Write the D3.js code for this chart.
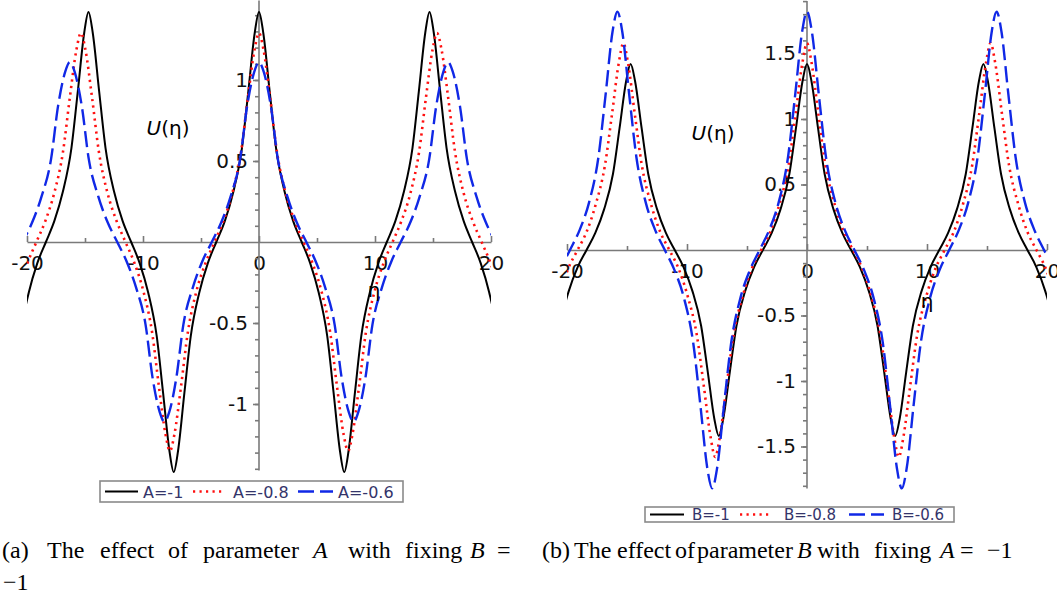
<!DOCTYPE html>
<html>
<head>
<meta charset="utf-8">
<script src="https://cdn.jsdelivr.net/npm/d3@7"></script>
<style>
  body { margin: 0; background: #fff; }
  svg { display: block; }
  .tick text { font-family: "DejaVu Sans", sans-serif; font-size: 20px; fill: #111; }
  .cap { font-family: "Liberation Serif", "Times New Roman", serif; font-size: 24px; fill: #000; }
  .leg { font-family: "DejaVu Sans", sans-serif; fill: #34346a; }
</style>
</head>
<body>
<div id="chart"></div>
<script>
// eta ticks / labels
const etaMajor = [-20, -10, 0, 10, 20];
const etaMinor = [-15, -5, 5, 15];
const yMajorA = [-1, -0.5, 0.5, 1];
const yMajorB = [-1.5, -1, -0.5, 0.5, 1.5, 1];
const legendA = ["A=-1", "A=-0.8", "A=-0.6"];
const legendB = ["B=-1", "B=-0.8", "B=-0.6"];

// A=-1, B=-1 (same curve in both panels)
const curveA1B1 = [[-21.13,-0.93],[-20.58,-0.58],[-19.84,-0.31],[-19.11,-0.13],[-18.37,0],[-17.64,0.13],[-16.91,0.31],[-16.17,0.58],[-15.62,0.93],[-15.07,1.29],[-14.7,1.42],
  [-14.33,1.29],[-13.78,0.93],[-13.23,0.58],[-12.49,0.31],[-11.76,0.13],[-11.02,0],[-10.29,-0.13],[-9.56,-0.31],[-8.82,-0.58],[-8.27,-0.93],[-7.72,-1.29],[-7.35,-1.42],
  [-6.98,-1.29],[-6.43,-0.93],[-5.88,-0.58],[-5.14,-0.31],[-4.41,-0.13],[-3.68,0],[-2.94,0.13],[-2.21,0.31],[-1.47,0.58],[-0.92,0.93],[-0.37,1.29],[0,1.42],
  [0.37,1.29],[0.92,0.93],[1.47,0.58],[2.21,0.31],[2.94,0.13],[3.68,0],[4.41,-0.13],[5.14,-0.31],[5.88,-0.58],[6.43,-0.93],[6.98,-1.29],[7.35,-1.42],
  [7.72,-1.29],[8.27,-0.93],[8.82,-0.58],[9.56,-0.31],[10.29,-0.13],[11.02,0],[11.76,0.13],[12.49,0.31],[13.23,0.58],[13.78,0.93],[14.33,1.29],[14.7,1.42],
  [15.07,1.29],[15.62,0.93],[16.17,0.58],[16.91,0.31],[17.64,0.13],[18.37,0],[19.11,-0.13],[19.84,-0.31],[20.58,-0.58],[21.13,-0.93]];

// A=-0.8
const curveA08 = [[-21.49,-0.56],[-20.73,-0.3],[-19.96,-0.13],[-19.19,0],[-18.42,0.13],[-17.66,0.3],[-16.89,0.56],[-16.31,0.89],[-15.73,1.19],[-15.35,1.29],
  [-14.97,1.19],[-14.39,0.89],[-13.81,0.56],[-13.05,0.3],[-12.28,0.13],[-11.51,0],[-10.74,-0.13],[-9.98,-0.3],[-9.21,-0.56],[-8.63,-0.89],[-8.05,-1.19],[-7.68,-1.29],
  [-7.3,-1.19],[-6.72,-0.89],[-6.14,-0.56],[-5.38,-0.3],[-4.61,-0.13],[-3.84,0],[-3.07,0.13],[-2.31,0.3],[-1.54,0.56],[-0.96,0.89],[-0.38,1.19],[0,1.29],
  [0.38,1.19],[0.96,0.89],[1.54,0.56],[2.3,0.3],[3.07,0.13],[3.84,0],[4.61,-0.13],[5.37,-0.3],[6.14,-0.56],[6.72,-0.89],[7.3,-1.19],[7.68,-1.29],
  [8.05,-1.19],[8.63,-0.89],[9.21,-0.56],[9.98,-0.3],[10.74,-0.13],[11.51,0],[12.28,0.13],[13.05,0.3],[13.81,0.56],[14.39,0.89],[14.97,1.19],[15.35,1.29],
  [15.73,1.19],[16.31,0.89],[16.89,0.56],[17.65,0.3],[18.42,0.13],[19.19,0],[19.96,-0.13],[20.73,-0.3],[21.49,-0.56]];

// A=-0.6
const curveA06 = [[-22.0,-0.28],[-21.19,-0.12],[-20.37,0],[-19.56,0.12],[-18.75,0.28],[-17.93,0.51],[-17.32,0.84],[-16.71,1.05],[-16.3,1.11],
  [-15.89,1.05],[-15.28,0.84],[-14.67,0.51],[-13.85,0.28],[-13.04,0.12],[-12.22,0],[-11.41,-0.12],[-10.6,-0.28],[-9.78,-0.51],[-9.17,-0.84],[-8.56,-1.05],[-8.15,-1.11],
  [-7.74,-1.05],[-7.13,-0.84],[-6.52,-0.51],[-5.7,-0.28],[-4.89,-0.12],[-4.07,0],[-3.26,0.12],[-2.45,0.28],[-1.63,0.51],[-1.02,0.84],[-0.41,1.05],[0,1.11],
  [0.41,1.05],[1.02,0.84],[1.63,0.51],[2.45,0.28],[3.26,0.12],[4.08,0],[4.89,-0.12],[5.7,-0.28],[6.52,-0.51],[7.13,-0.84],[7.74,-1.05],[8.15,-1.11],
  [8.56,-1.05],[9.17,-0.84],[9.78,-0.51],[10.6,-0.28],[11.41,-0.12],[12.22,0],[13.04,0.12],[13.85,0.28],[14.67,0.51],[15.28,0.84],[15.89,1.05],[16.3,1.11],
  [16.71,1.05],[17.32,0.84],[17.93,0.51],[18.75,0.28],[19.56,0.12],[20.37,0],[21.19,-0.12]];

// B=-0.8
const curveB08 = [[-21.41,-0.65],[-20.65,-0.35],[-19.89,-0.14],[-19.12,0],[-18.36,0.14],[-17.6,0.35],[-16.83,0.65],[-16.26,1.03],[-15.68,1.43],[-15.3,1.58],
  [-14.92,1.43],[-14.34,1.03],[-13.77,0.65],[-13.0,0.35],[-12.24,0.14],[-11.47,0],[-10.71,-0.14],[-9.95,-0.35],[-9.18,-0.65],[-8.61,-1.03],[-8.03,-1.43],[-7.65,-1.58],
  [-7.27,-1.43],[-6.69,-1.03],[-6.12,-0.65],[-5.35,-0.35],[-4.59,-0.14],[-3.82,0],[-3.06,0.14],[-2.3,0.35],[-1.53,0.65],[-0.96,1.03],[-0.38,1.43],[0,1.58],
  [0.38,1.43],[0.96,1.03],[1.53,0.65],[2.3,0.35],[3.06,0.14],[3.83,0],[4.59,-0.14],[5.35,-0.35],[6.12,-0.65],[6.69,-1.03],[7.27,-1.43],[7.65,-1.58],
  [8.03,-1.43],[8.61,-1.03],[9.18,-0.65],[9.95,-0.35],[10.71,-0.14],[11.47,0],[12.24,0.14],[13.0,0.35],[13.77,0.65],[14.34,1.03],[14.92,1.43],[15.3,1.58],
  [15.68,1.43],[16.26,1.03],[16.83,0.65],[17.6,0.35],[18.36,0.14],[19.12,0],[19.89,-0.14],[20.65,-0.35],[21.41,-0.65]];

// B=-0.6
const curveB06 = [[-21.33,-0.36],[-20.54,-0.15],[-19.75,0],[-18.96,0.15],[-18.17,0.36],[-17.38,0.71],[-16.79,1.18],[-16.2,1.67],[-15.8,1.82],
  [-15.4,1.67],[-14.81,1.18],[-14.22,0.71],[-13.43,0.36],[-12.64,0.15],[-11.85,0],[-11.06,-0.15],[-10.27,-0.36],[-9.48,-0.71],[-8.89,-1.18],[-8.3,-1.67],[-7.9,-1.82],
  [-7.5,-1.67],[-6.91,-1.18],[-6.32,-0.71],[-5.53,-0.36],[-4.74,-0.15],[-3.95,0],[-3.16,0.15],[-2.37,0.36],[-1.58,0.71],[-0.99,1.18],[-0.4,1.67],[0,1.82],
  [0.4,1.67],[0.99,1.18],[1.58,0.71],[2.37,0.36],[3.16,0.15],[3.95,0],[4.74,-0.15],[5.53,-0.36],[6.32,-0.71],[6.91,-1.18],[7.5,-1.67],[7.9,-1.82],
  [8.3,-1.67],[8.89,-1.18],[9.48,-0.71],[10.27,-0.36],[11.06,-0.15],[11.85,0],[12.64,0.15],[13.43,0.36],[14.22,0.71],[14.81,1.18],[15.4,1.67],[15.8,1.82],
  [16.2,1.67],[16.79,1.18],[17.38,0.71],[18.17,0.36],[18.96,0.15],[19.75,0],[20.54,-0.15],[21.33,-0.36]];

const styles = [
  { color: "#000", width: 2, dash: null },
  { color: "#ff1010", width: 2.6, dash: "2.2 4.3" },
  { color: "#1028e6", width: 2.4, dash: "16 6" }
];

const svg = d3.select("#chart").append("svg")
  .attr("width", 1057).attr("height", 596);
svg.append("rect").attr("width", 1057).attr("height", 596).attr("fill", "#fff");

function drawPanel(p) {
  let x = d3.scaleLinear().domain([-20, 20]).range(p.xr);
  let y = d3.scaleLinear().domain([-1, 1]).range([p.y0 + p.unit, p.y0 - p.unit]);
  let g = svg.append("g");

  // clip to eta range
  g.append("clipPath").attr("id", "clip" + p.id)
    .append("rect").attr("x", p.xr[0]).attr("y", 0)
    .attr("width", p.xr[1] - p.xr[0]).attr("height", 596);

  // x axis
  g.append("g").attr("transform", "translate(0," + p.y0 + ")")
    .call(d3.axisBottom(x).tickValues(etaMinor).tickSizeInner(-4).tickSizeOuter(0).tickFormat(""))
    .call(a => a.select(".domain").remove());
  g.append("g").attr("transform", "translate(0," + p.y0 + ")")
    .call(d3.axisBottom(x).tickValues(etaMajor).tickSizeInner(-6).tickSizeOuter(0).tickPadding(14)
      .tickFormat(d => d === 0 ? "0" : String(d).replace("\u2212", "-")));

  // y axis
  let yMinor = d3.range(-19, 20).map(d => d / 10).filter(d => Math.abs(d) <= p.yTop && d >= p.yBot && d !== 0);
  g.append("g").attr("transform", "translate(" + x(0) + ",0)")
    .call(d3.axisLeft(y).tickValues(yMinor).tickSizeInner(4).tickSizeOuter(0).tickFormat(""))
    .call(a => a.select(".domain").remove());
  g.append("g").attr("transform", "translate(" + x(0) + ",0)")
    .call(d3.axisLeft(y).tickValues(p.yMajor).tickSizeInner(6).tickSizeOuter(0).tickPadding(5)
      .tickFormat(d => String(d).replace("\u2212", "-")))
    .call(a => a.select(".domain").remove());
  g.append("line")
    .attr("x1", x(0)).attr("x2", x(0))
    .attr("y1", y(p.yTop)).attr("y2", y(p.yBot));

  g.selectAll(".domain, .tick line, line").attr("stroke", "#7a7a7a").attr("stroke-width", 1.6);

  // curves
  let line = d3.line().x(d => x(d[0])).y(d => y(d[1])).curve(d3.curveMonotoneX);
  let cg = g.append("g").attr("clip-path", "url(#clip" + p.id + ")");
  p.series.forEach((s, i) => {
    cg.append("path").datum(s)
      .attr("d", line)
      .attr("fill", "none")
      .attr("stroke", styles[i].color)
      .attr("stroke-width", styles[i].width)
      .attr("stroke-dasharray", styles[i].dash)
      .attr("stroke-linejoin", "round");
  });

  // axis titles
  let ut = g.append("text").attr("x", p.uPos[0]).attr("y", p.uPos[1])
    .attr("text-anchor", "middle")
    .style("font-family", "DejaVu Sans, sans-serif").style("font-size", "20px");
  ut.append("tspan").attr("font-style", "italic").text("U");
  ut.append("tspan").text("(\u03b7)");
  g.append("text").attr("x", p.etaPos[0]).attr("y", p.etaPos[1])
    .attr("text-anchor", "middle")
    .style("font-family", "DejaVu Sans, sans-serif").style("font-size", "20px")
    .text("\u03b7");

  // legend
  let L = p.legend;
  g.append("rect").attr("x", L.box[0]).attr("y", L.box[1])
    .attr("width", L.box[2]).attr("height", L.box[3])
    .attr("fill", "#fff").attr("stroke", "#8a8a8a").attr("stroke-width", 1.6);
  p.names.forEach((n, i) => {
    let ly = L.box[1] + L.box[3] / 2;
    g.append("line")
      .attr("x1", L.items[i][0]).attr("x2", L.items[i][1])
      .attr("y1", ly).attr("y2", ly)
      .attr("stroke", styles[i].color)
      .attr("stroke-width", styles[i].width)
      .attr("stroke-dasharray", styles[i].dash);
    g.append("text").attr("class", "leg")
      .attr("x", L.items[i][2]).attr("y", L.base)
      .style("font-size", L.fs + "px")
      .text(n);
  });

  // caption
  let cap = g.append("text").attr("class", "cap");
  p.caption.forEach(w => {
    cap.append("tspan").attr("x", w[1]).attr("y", w[2])
      .attr("font-style", w[3] ? "italic" : null)
      .text(w[0]);
  });
}

drawPanel({
  id: "a", xr: [27, 491], y0: 242, unit: 162, yTop: 1.49, yBot: -1.41,
  yMajor: yMajorA, series: [curveA1B1, curveA08, curveA06], names: legendA,
  uPos: [168, 135], etaPos: [374, 297],
  legend: { box: [100, 481, 303, 21], items: [[105, 138, 143], [193, 225, 233], [298, 333, 338]], base: 498, fs: 16 },
  caption: [["(a)", 2, 558], ["The", 47, 558], ["effect", 100, 558], ["of", 168, 558], ["parameter", 203, 558],
    ["A", 313, 558, true], ["with", 348, 558], ["fixing", 405, 558], ["B", 470, 558, true], ["=", 497, 558], ["\u22121", 3, 590]]
});

drawPanel({
  id: "b", xr: [567, 1047], y0: 250, unit: 131, yTop: 1.9, yBot: -1.82,
  yMajor: yMajorB, series: [curveA1B1, curveB08, curveB06], names: legendB,
  uPos: [713, 140], etaPos: [927, 308],
  legend: { box: [645, 507, 309, 15], items: [[650, 684, 692], [740, 772, 784], [849, 884, 892]], base: 519.5, fs: 15 },
  caption: [["(b)", 542, 558], ["The", 574, 558], ["effect", 617, 558], ["of", 675, 558], ["parameter", 697, 558],
    ["B", 797, 558, true], ["with", 817, 558], ["fixing", 874, 558], ["A", 940, 558, true], ["=", 960, 558], ["\u22121", 987, 558]]
});
</script>
</body>
</html>
